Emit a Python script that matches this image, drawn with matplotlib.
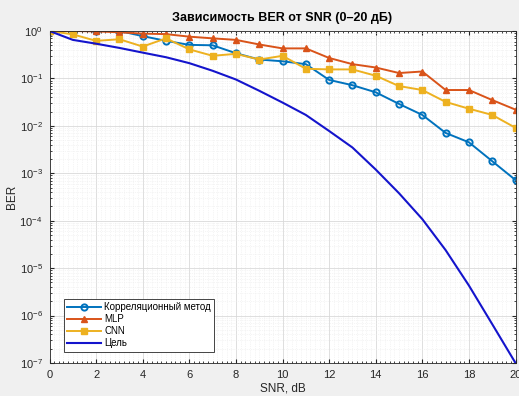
import numpy as np
import matplotlib
matplotlib.use("Agg")
import matplotlib.pyplot as plt
from matplotlib.ticker import LogLocator, MultipleLocator, NullFormatter

# === DATA ===
snr_db = list(range(0, 21))

ber_corr = [1.0, 1.0, 1.0, 1.0, 0.78, 0.62, 0.51, 0.50, 0.34, 0.25, 0.23,
            0.20, 0.093, 0.072, 0.051, 0.029, 0.017, 0.0071, 0.0045, 0.0018, 0.00072]
ber_mlp = [1.0, 1.0, 0.98, 0.94, 0.88, 0.86, 0.76, 0.70, 0.65, 0.52, 0.43,
           0.43, 0.27, 0.20, 0.17, 0.13, 0.14, 0.057, 0.057, 0.035, 0.022]
ber_cnn = [1.0, 0.85, 0.62, 0.67, 0.47, 0.70, 0.41, 0.30, 0.33, 0.25, 0.30,
           0.16, 0.155, 0.155, 0.114, 0.069, 0.057, 0.032, 0.023, 0.017, 0.0091]
ber_target = [1.0, 0.65, 0.54, 0.44, 0.35, 0.28, 0.21, 0.145, 0.095, 0.055, 0.031,
              0.017, 0.0078, 0.0035, 0.0012, 3.8e-4, 1.08e-4, 2.4e-5, 4.3e-6, 6.6e-7, 1e-7]

labels = ["Корреляционный метод", "MLP", "CNN", "Цель"]
x_ticks = list(range(0, 21, 2))

# MATLAB default colours
C_BLUE = "#0072BD"
C_ORANGE = "#D95319"
C_YELLOW = "#EDB120"
C_TARGET = "#1414CC"

plt.rcParams["font.family"] = ["Liberation Sans", "DejaVu Sans"]
plt.rcParams["mathtext.fontset"] = "custom"
plt.rcParams["mathtext.rm"] = "Liberation Sans"
plt.rcParams["mathtext.it"] = "Liberation Sans:italic"
plt.rcParams["mathtext.bf"] = "Liberation Sans:bold"


def main():
    fig = plt.figure(figsize=(5.19, 3.96), dpi=100, facecolor="#f0f0f0")
    ax = fig.add_axes([0.0954, 0.0833, 0.8979, 0.8384])
    ax.set_facecolor("white")

    ax.semilogy(snr_db, ber_corr, "-o", color=C_BLUE, lw=1.4, ms=4.5,
                mfc="none", mew=1.4, label=labels[0])
    ax.semilogy(snr_db, ber_mlp, "-^", color=C_ORANGE, lw=1.4, ms=5,
                mfc=C_ORANGE, mew=1.0, label=labels[1])
    ax.semilogy(snr_db, ber_cnn, "-s", color=C_YELLOW, lw=1.4, ms=4.5,
                mfc=C_YELLOW, mew=1.0, label=labels[2])
    ax.semilogy(snr_db, ber_target, "-", color=C_TARGET, lw=1.5, label=labels[3])

    ax.set_xlim(0, 20)
    ax.set_ylim(1e-7, 1)
    ax.set_xticks(x_ticks)
    ax.xaxis.set_minor_locator(MultipleLocator(0.2))
    ax.yaxis.set_major_locator(LogLocator(base=10, numticks=10))
    ax.yaxis.set_minor_locator(LogLocator(base=10, subs=np.arange(2, 10), numticks=100))
    ax.yaxis.set_minor_formatter(NullFormatter())

    ax.grid(True, which="major", color="#d9d9d9", lw=0.6)
    ax.grid(True, which="minor", color="#ebebeb", lw=0.5, ls=":")
    ax.set_axisbelow(True)

    ax.tick_params(which="both", direction="in", top=True, right=True,
                   colors="#262626", labelsize=8)
    ax.tick_params(which="major", length=3, pad=5)
    ax.tick_params(which="minor", length=1.5)
    for s in ax.spines.values():
        s.set_color("#262626")
        s.set_linewidth(0.6)

    ax.set_title("Зависимость BER от SNR (0–20 дБ)", fontsize=9,
                 fontweight="bold", pad=7)
    ax.set_xlabel("SNR, dB", fontsize=8.5, color="#262626", labelpad=2)
    ax.set_ylabel("BER", fontsize=8.5, color="#262626", labelpad=1)

    leg = ax.legend(loc="lower left", bbox_to_anchor=(0.02, 0.02), fontsize=7,
                    handlelength=3.5, handletextpad=0.3, borderpad=0.35,
                    labelspacing=0.2, fancybox=False, framealpha=1.0,
                    edgecolor="#262626")
    leg.get_frame().set_linewidth(0.6)

    fig.savefig("out.png", dpi=100, facecolor=fig.get_facecolor())


if __name__ == "__main__":
    main()
